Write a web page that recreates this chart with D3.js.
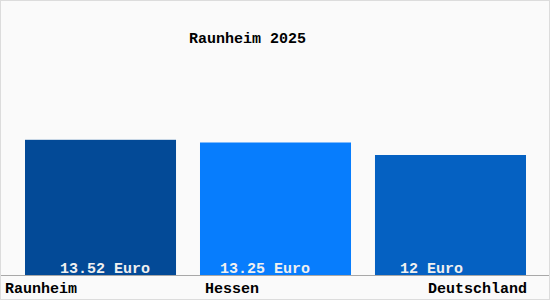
<!DOCTYPE html>
<html>
<head>
<meta charset="utf-8">
<script src="https://cdn.jsdelivr.net/npm/d3@7"></script>
<style>
    body { margin: 0; background: #fff; }
    text { font-family: "Liberation Mono", "DejaVu Sans Mono", monospace; font-size: 15px; font-weight: bold; }
</style>
</head>
<body>
<script>
//Chart data
const categories = ['Raunheim', 'Hessen', 'Deutschland'];
const values = [13.52, 13.25, 12];
const valueLabels = ['13.52 Euro', '13.25 Euro', '12 Euro'];
const colours = ['#034a97', '#077dfd', '#0561c2'];
const title = 'Raunheim 2025';

//Setup chart
const width = 550;
const height = 300;
const baseline = 275;

//Offsets of the value labels inside each bar
const labelShift = [35, 20, 25];

const svg = d3.select('body').append('svg')
    .attr('width', width)
    .attr('height', height);

//Background and frame
svg.append('rect')
    .attr('x', 0.5)
    .attr('y', 0.5)
    .attr('width', width-1)
    .attr('height', height-1)
    .style('fill', '#fafafa')
    .style('stroke', '#dcdcdc');

//Create scales
let x = d3.scaleBand()
    .domain(categories)
    .range([25, 526])
    .paddingInner(0.137)
    .paddingOuter(0);

let y = d3.scaleLinear()
    .domain([0, 20])
    .range([baseline, baseline-200]);

//Bars
svg.selectAll('rect.bar')
    .data(values)
    .enter()
    .append('rect')
    .attr('class', 'bar')
    .attr('x', (d,i) => x(categories[i]))
    .attr('width', x.bandwidth())
    .attr('y', d => y(d))
    .attr('height', d => y(0)-y(d))
    .style('fill', (d,i) => colours[i]);

//Axis line
svg.append('line')
    .attr('x1', 1)
    .attr('x2', width-1)
    .attr('y1', y(0)+0.5)
    .attr('y2', y(0)+0.5)
    .style('stroke', '#a8a8a8');

//Value labels
svg.selectAll('text.valueLabel')
    .data(valueLabels)
    .enter()
    .append('text')
    .attr('class', 'valueLabel')
    .attr('x', (d,i) => x(categories[i])+labelShift[i])
    .attr('y', y(0)-2)
    .style('fill', '#f0f0f0')
    .text(d => d);

//Category labels
svg.selectAll('text.label')
    .data(categories)
    .enter()
    .append('text')
    .attr('class', 'label')
    .attr('x', (d,i) => i == 0 ? 5 : i == categories.length-1 ? x(d)+x.bandwidth()+1 : x(d)+5)
    .attr('y', 293)
    .style('text-anchor', (d,i) => i == categories.length-1 ? 'end' : 'start')
    .style('fill', '#000')
    .text(d => d);

//Title
svg.append('text')
    .attr('class', 'title')
    .attr('x', 189)
    .attr('y', 43)
    .style('fill', '#000')
    .text(title);
</script>
</body>
</html>
